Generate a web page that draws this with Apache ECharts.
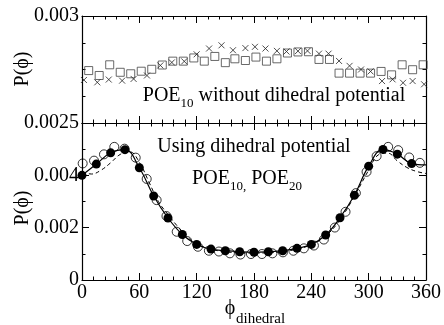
<!DOCTYPE html>
<html>
<head>
<meta charset="utf-8">
<script src="https://cdn.jsdelivr.net/npm/echarts@6/dist/echarts.min.js"></script>
<style>
  html, body { margin: 0; padding: 0; background: #fff; }
  #chart { width: 444px; height: 325px; }
</style>
</head>
<body>
<div id="chart"></div>
<script>
// top panel: no dihedral potential
const sqAngle = [7,18,29,40,51,62,73,84,95,106,117,128,139,150,160,171,182,193,204,215,226,237,248,259,269,280,291,302,313,324,335,346,357];
const sqVal = [0.002745,0.002722,0.002772,0.002737,0.00273,0.002742,0.002751,0.002771,0.002789,0.002789,0.002804,0.002789,0.002811,0.002782,0.0028,0.002792,0.002808,0.002789,0.0028,0.002827,0.002832,0.002833,0.002797,0.002797,0.002733,0.002733,0.002733,0.002733,0.002741,0.002725,0.002772,0.002749,0.002772];
const crossAngle = [2,16,28,42,54,68,82,94,107,120,133,146,158,171,181,192,204,214,226,236,248,258,269,280,292,302,314,325,336,346,358];
const crossVal = [0.002701,0.00269,0.002703,0.002698,0.002706,0.002722,0.002769,0.002783,0.002788,0.002821,0.002848,0.002863,0.00284,0.00285,0.002856,0.002848,0.002837,0.002834,0.002836,0.002837,0.002824,0.002824,0.00279,0.002767,0.00275,0.002741,0.002696,0.002704,0.002688,0.002696,0.002681];

// bottom panel: with dihedral potential
const filledAngle = [0,15,30,45,60,75,90,105,120,135,150,165,180,195,210,225,240,255,270,285,300,315,330,345,360];
const filledVal = [0.0040,0.00443,0.00486,0.00498,0.00429,0.00321,0.00237,0.00174,0.00136,0.00118,0.00112,0.00108,0.00106,0.00108,0.00112,0.00121,0.00136,0.00172,0.00238,0.00324,0.00435,0.00499,0.00481,0.00445,0.0044];
const openAngle = [0.7,12.6,23,33.8,44.5,56.2,67.7,78.1,88.4,99.1,110.1,121.3,132.8,143.3,154.8,165.8,176.8,188.3,199.3,210.3,221.2,232.2,242.7,253.1,264.6,275.8,286.6,297.8,308.3,320.4,330.9,342.4,353.6];
const openVal = [0.004454,0.004561,0.004802,0.005088,0.005019,0.004676,0.003863,0.003053,0.002443,0.001844,0.001489,0.001271,0.001118,0.001088,0.001019,0.000973,0.000992,0.000992,0.001019,0.001057,0.001118,0.00121,0.001317,0.001546,0.002004,0.002607,0.00332,0.004134,0.004733,0.005088,0.004962,0.004683,0.004477];
const dashAngle = [0,10,20,30,40,50,60,70,80,90,100,110,120,135,150,165,180,195,210,225,240,255,270,285,300,310,320,330,340,350,360];
const dashVal = [0.00412,0.00405,0.0042,0.00448,0.0048,0.0049,0.0045,0.00375,0.003,0.0025,0.00205,0.00165,0.00138,0.00118,0.00108,0.00104,0.00103,0.00104,0.00108,0.00118,0.00135,0.00168,0.0023,0.0032,0.0042,0.00478,0.00485,0.00455,0.0043,0.00415,0.00407];

const xTicks = [0, 360, 60];

const pair = (xs, ys) => xs.map((x, i) => [x, ys[i]]);
const serif = 'Liberation Serif';
const ink = '#000';

const xBase = (grid, pos, labels) => ({
  type: 'value', gridIndex: grid, position: pos,
  min: xTicks[0], max: xTicks[1], interval: xTicks[2],
  axisLine: { show: true, onZero: false, lineStyle: { color: ink, width: 1.2 } },
  axisTick: { show: true, inside: true, length: 7, lineStyle: { color: ink } },
  minorTick: { show: true, splitNumber: 5, length: 3.5, lineStyle: { color: ink } },
  splitLine: { show: false },
  axisLabel: { show: labels, color: ink, fontFamily: serif, fontSize: 20, margin: 3,
    showMinLabel: true, showMaxLabel: true }
});

const yBase = (grid, pos, min, max, step, minor, labels, fmt) => ({
  type: 'value', gridIndex: grid, position: pos,
  min: min, max: max, interval: step,
  axisLine: { show: true, onZero: false, lineStyle: { color: ink, width: 1.2 } },
  axisTick: { show: true, inside: true, length: 7, lineStyle: { color: ink } },
  minorTick: { show: true, splitNumber: minor, length: 3.5, lineStyle: { color: ink } },
  splitLine: { show: false },
  axisLabel: { show: labels, color: ink, fontFamily: serif, fontSize: 20, margin: 3,
    padding: [6, 0, 0, 0], hideOverlap: false, formatter: fmt }
});

const chart = echarts.init(document.getElementById('chart'));
chart.setOption({
  animation: false,
  backgroundColor: '#fff',
  grid: [
    { left: 82, right: 18, top: 16, height: 107 },
    { left: 82, right: 18, top: 123, height: 157 }
  ],
  xAxis: [
    xBase(0, 'bottom', false),
    xBase(0, 'top', false),
    xBase(1, 'bottom', true),
    xBase(1, 'top', false)
  ],
  yAxis: [
    yBase(0, 'left', 0.0025, 0.003, 0.0005, 4, true, v => String(+v.toFixed(4))),
    yBase(0, 'right', 0.0025, 0.003, 0.0005, 4, false),
    yBase(1, 'left', 0, 0.006, 0.002, 2, true, v => v >= 0.0059 ? '' : String(+v.toFixed(3))),
    yBase(1, 'right', 0, 0.006, 0.002, 2, false)
  ],
  series: [
    {
      type: 'scatter', xAxisIndex: 0, yAxisIndex: 0,
      data: pair(sqAngle, sqVal),
      symbol: 'rect', symbolSize: 8,
      itemStyle: { color: 'transparent', borderColor: '#444', borderWidth: 1 }
    },
    {
      type: 'scatter', xAxisIndex: 0, yAxisIndex: 0,
      data: pair(crossAngle, crossVal),
      symbol: 'path://M0,0L10,10M10,0L0,10', symbolSize: 6,
      itemStyle: { color: 'transparent', borderColor: '#222', borderWidth: 1 }
    },
    {
      type: 'scatter', xAxisIndex: 2, yAxisIndex: 2,
      data: pair(openAngle, openVal),
      symbol: 'circle', symbolSize: 9,
      itemStyle: { color: 'transparent', borderColor: ink, borderWidth: 1 }
    },
    {
      type: 'line', xAxisIndex: 2, yAxisIndex: 2,
      data: pair(dashAngle, dashVal),
      smooth: 0.4, showSymbol: false,
      lineStyle: { color: ink, width: 1, type: [4, 3] }
    },
    {
      type: 'line', xAxisIndex: 2, yAxisIndex: 2,
      data: pair(filledAngle, filledVal).map((d, i, a) => i === a.length - 1 ? { value: d, symbol: 'none' } : d),
      smooth: 0.4, symbol: 'circle', symbolSize: 9, showAllSymbol: true,
      itemStyle: { color: ink },
      lineStyle: { color: ink, width: 1.2 }
    }
  ],
  graphic: [
    {
      type: 'text', x: 274, y: 82,
      style: {
        text: '{a|POE}{s|10}{a| without dihedral potential}',
        textAlign: 'center', textVerticalAlign: 'top',
        rich: {
          a: { fontFamily: serif, fontSize: 20, lineHeight: 28, verticalAlign: 'middle', fill: ink },
          s: { fontFamily: serif, fontSize: 13, lineHeight: 10, verticalAlign: 'bottom', fill: ink }
        }
      }
    },
    {
      type: 'text', x: 254, y: 137,
      style: {
        text: 'Using dihedral potential',
        textAlign: 'center', textVerticalAlign: 'top',
        fontFamily: serif, fontSize: 20, fill: ink
      }
    },
    {
      type: 'text', x: 247, y: 165,
      style: {
        text: '{a|POE}{s|10,}{a| POE}{s|20}',
        textAlign: 'center', textVerticalAlign: 'top',
        rich: {
          a: { fontFamily: serif, fontSize: 20, lineHeight: 28, verticalAlign: 'middle', fill: ink },
          s: { fontFamily: serif, fontSize: 13, lineHeight: 10, verticalAlign: 'bottom', fill: ink }
        }
      }
    },
    {
      type: 'text', x: 23, y: 69, rotation: Math.PI / 2,
      style: { text: 'P(ϕ)', fontFamily: serif, fontSize: 20, fill: ink,
        textAlign: 'center', textVerticalAlign: 'middle' }
    },
    {
      type: 'text', x: 23, y: 208, rotation: Math.PI / 2,
      style: { text: 'P(ϕ)', fontFamily: serif, fontSize: 20, fill: ink,
        textAlign: 'center', textVerticalAlign: 'middle' }
    },
    {
      type: 'text', x: 230, y: 309,
      style: { text: 'ϕ', fontFamily: serif, fontSize: 20, fill: ink,
        textAlign: 'center', textVerticalAlign: 'middle' }
    },
    {
      type: 'text', x: 236, y: 319,
      style: { text: 'dihedral', fontFamily: serif, fontSize: 15, fill: ink,
        textAlign: 'left', textVerticalAlign: 'middle' }
    }
  ]
});
</script>
</body>
</html>
